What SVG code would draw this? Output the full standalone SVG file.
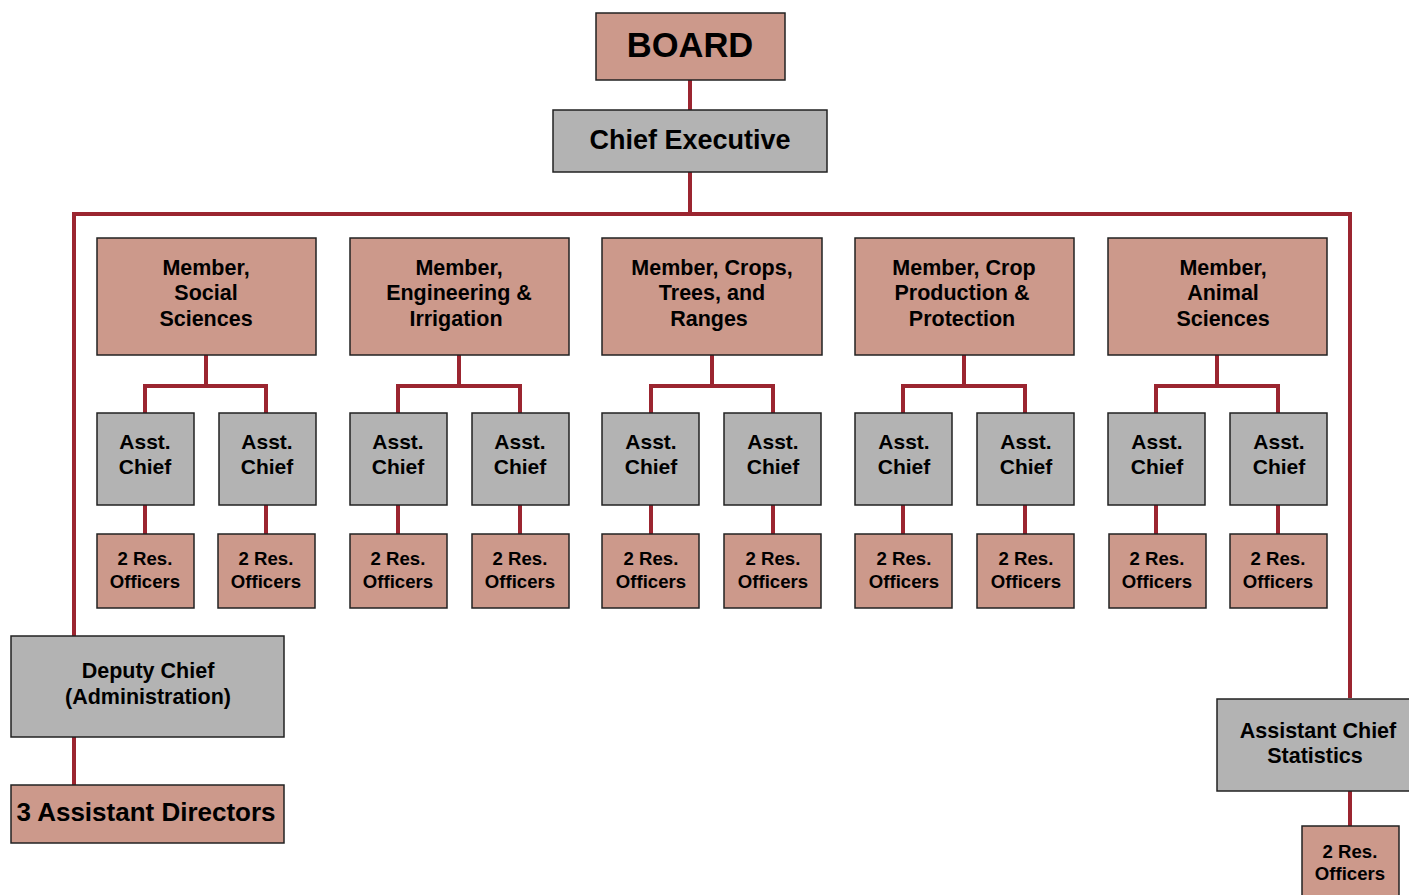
<svg xmlns="http://www.w3.org/2000/svg" width="1409" height="895" viewBox="0 0 1409 895">
<style>
.p{fill:#cc998b;stroke:#222;stroke-width:1.5}
.g{fill:#b3b3b3;stroke:#222;stroke-width:1.5}
.c{fill:none;stroke:#9b2530;stroke-width:4}
text{font-family:"Liberation Sans",Arial,sans-serif;font-weight:bold;fill:#000;text-anchor:middle}
.m{font-size:21.5px}
.a{font-size:21px}
.r{font-size:18.6px}
</style>
<rect width="1409" height="895" fill="#fff"/>
<g id="connectors" class="c">
<path d="M690,80V110M690,172V214"/>
<path d="M74,636V214H1350V698"/>
<path d="M74,737V785M1350,791V826"/>
<path d="M206,355V386M145,413V386H266V413M145,505V534M266,505V534"/>
<path d="M459,355V386M398,413V386H520V413M398,505V534M520,505V534"/>
<path d="M712,355V386M651,413V386H773V413M651,505V534M773,505V534"/>
<path d="M964,355V386M903,413V386H1025V413M903,505V534M1025,505V534"/>
<path d="M1217,355V386M1156,413V386H1278V413M1156,505V534M1278,505V534"/>
</g>
<g id="board"><rect class="p" x="596" y="13" width="189" height="67"/><text x="690" y="57" font-size="34.5">BOARD</text></g>
<g id="chief-executive"><rect class="g" x="553" y="110" width="274" height="62"/><text x="690" y="149" font-size="27">Chief Executive</text></g>

<g id="member-social"><rect class="p" x="97" y="238" width="219" height="117"/><text class="m" x="206" y="275">Member,</text><text class="m" x="206" y="300">Social</text><text class="m" x="206" y="326">Sciences</text></g>
<g id="member-engineering"><rect class="p" x="350" y="238" width="219" height="117"/><text class="m" x="459" y="275">Member,</text><text class="m" x="459" y="300">Engineering &amp;</text><text class="m" x="456" y="326">Irrigation</text></g>
<g id="member-crops"><rect class="p" x="602" y="238" width="220" height="117"/><text class="m" x="712" y="275">Member, Crops,</text><text class="m" x="712" y="300">Trees, and</text><text class="m" x="709" y="326">Ranges</text></g>
<g id="member-crop-production"><rect class="p" x="855" y="238" width="219" height="117"/><text class="m" x="964" y="275">Member, Crop</text><text class="m" x="962" y="300">Production &amp;</text><text class="m" x="962" y="326">Protection</text></g>
<g id="member-animal"><rect class="p" x="1108" y="238" width="219" height="117"/><text class="m" x="1223" y="275">Member,</text><text class="m" x="1223" y="300">Animal</text><text class="m" x="1223" y="326">Sciences</text></g>

<g id="asst-1a"><rect class="g" x="97" y="413" width="97" height="92"/><text class="a" x="145" y="449">Asst.</text><text class="a" x="145" y="474">Chief</text></g>
<g id="asst-1b"><rect class="g" x="219" y="413" width="97" height="92"/><text class="a" x="267" y="449">Asst.</text><text class="a" x="267" y="474">Chief</text></g>
<g id="asst-2a"><rect class="g" x="350" y="413" width="97" height="92"/><text class="a" x="398" y="449">Asst.</text><text class="a" x="398" y="474">Chief</text></g>
<g id="asst-2b"><rect class="g" x="472" y="413" width="97" height="92"/><text class="a" x="520" y="449">Asst.</text><text class="a" x="520" y="474">Chief</text></g>
<g id="asst-3a"><rect class="g" x="602" y="413" width="97" height="92"/><text class="a" x="651" y="449">Asst.</text><text class="a" x="651" y="474">Chief</text></g>
<g id="asst-3b"><rect class="g" x="724" y="413" width="97" height="92"/><text class="a" x="773" y="449">Asst.</text><text class="a" x="773" y="474">Chief</text></g>
<g id="asst-4a"><rect class="g" x="855" y="413" width="97" height="92"/><text class="a" x="904" y="449">Asst.</text><text class="a" x="904" y="474">Chief</text></g>
<g id="asst-4b"><rect class="g" x="977" y="413" width="97" height="92"/><text class="a" x="1026" y="449">Asst.</text><text class="a" x="1026" y="474">Chief</text></g>
<g id="asst-5a"><rect class="g" x="1108" y="413" width="97" height="92"/><text class="a" x="1157" y="449">Asst.</text><text class="a" x="1157" y="474">Chief</text></g>
<g id="asst-5b"><rect class="g" x="1230" y="413" width="97" height="92"/><text class="a" x="1279" y="449">Asst.</text><text class="a" x="1279" y="474">Chief</text></g>

<g id="res-1a"><rect class="p" x="97" y="534" width="97" height="74"/><text class="r" x="145" y="565">2 Res.</text><text class="r" x="145" y="588">Officers</text></g>
<g id="res-1b"><rect class="p" x="218" y="534" width="97" height="74"/><text class="r" x="266" y="565">2 Res.</text><text class="r" x="266" y="588">Officers</text></g>
<g id="res-2a"><rect class="p" x="350" y="534" width="97" height="74"/><text class="r" x="398" y="565">2 Res.</text><text class="r" x="398" y="588">Officers</text></g>
<g id="res-2b"><rect class="p" x="472" y="534" width="97" height="74"/><text class="r" x="520" y="565">2 Res.</text><text class="r" x="520" y="588">Officers</text></g>
<g id="res-3a"><rect class="p" x="602" y="534" width="97" height="74"/><text class="r" x="651" y="565">2 Res.</text><text class="r" x="651" y="588">Officers</text></g>
<g id="res-3b"><rect class="p" x="724" y="534" width="97" height="74"/><text class="r" x="773" y="565">2 Res.</text><text class="r" x="773" y="588">Officers</text></g>
<g id="res-4a"><rect class="p" x="855" y="534" width="97" height="74"/><text class="r" x="904" y="565">2 Res.</text><text class="r" x="904" y="588">Officers</text></g>
<g id="res-4b"><rect class="p" x="977" y="534" width="97" height="74"/><text class="r" x="1026" y="565">2 Res.</text><text class="r" x="1026" y="588">Officers</text></g>
<g id="res-5a"><rect class="p" x="1109" y="534" width="97" height="74"/><text class="r" x="1157" y="565">2 Res.</text><text class="r" x="1157" y="588">Officers</text></g>
<g id="res-5b"><rect class="p" x="1230" y="534" width="97" height="74"/><text class="r" x="1278" y="565">2 Res.</text><text class="r" x="1278" y="588">Officers</text></g>

<g id="deputy-chief"><rect class="g" x="11" y="636" width="273" height="101"/><text class="m" x="148" y="678">Deputy Chief</text><text class="m" x="148" y="704">(Administration)</text></g>
<g id="assistant-directors"><rect class="p" x="11" y="785" width="273" height="58"/><text x="146" y="821" font-size="26">3 Assistant Directors</text></g>
<g id="asst-chief-statistics"><rect class="g" x="1217" y="699" width="200" height="92"/><text class="m" x="1318" y="738">Assistant Chief</text><text class="m" x="1315" y="763">Statistics</text></g>
<g id="res-stats"><rect class="p" x="1302" y="826" width="97" height="80"/><text class="r" x="1350" y="858">2 Res.</text><text class="r" x="1350" y="880">Officers</text></g>
</svg>
